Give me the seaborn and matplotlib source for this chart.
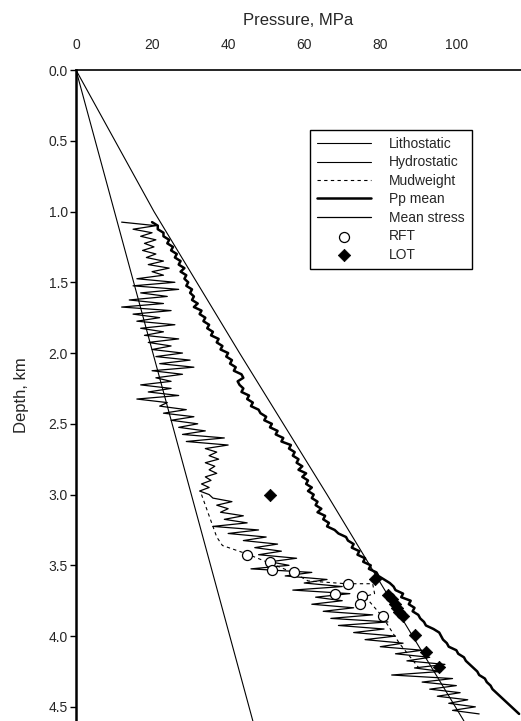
import numpy as np
import pandas as pd
import matplotlib
matplotlib.use("Agg")
import matplotlib.pyplot as plt
from matplotlib.ticker import FormatStrFormatter
import seaborn as sns

sns.set_style("ticks")
plt.rcParams['font.family'] = ['Liberation Sans', 'DejaVu Sans']

# straight gradients (depth km, pressure MPa)
litho_depth = [0.0, 1.0, 2.0, 3.0, 4.0, 4.6]
litho_p = [0.0, 20.5, 43.0, 66.0, 88.5, 102.0]
hydro_depth = [0.0, 4.6]
hydro_p = [0.0, 46.5]

# mud weight used while drilling
mud_depth = [3.00, 3.30, 3.36, 3.42, 3.55, 3.61, 3.63, 3.63, 3.70, 3.72, 3.86, 4.05, 4.22]
mud_p = [33.0, 37.0, 38.5, 45.0, 57.0, 61.0, 71.0, 78.0, 78.5, 76.0, 80.5, 85.0, 90.0]

# log-derived curves, digitised every 25 m
log_depth = [
    1.075, 1.100, 1.125, 1.150, 1.175, 1.200, 1.225, 1.250, 1.275, 1.300,
    1.325, 1.350, 1.375, 1.400, 1.425, 1.450, 1.475, 1.500, 1.525, 1.550,
    1.575, 1.600, 1.625, 1.650, 1.675, 1.700, 1.725, 1.750, 1.775, 1.800,
    1.825, 1.850, 1.875, 1.900, 1.925, 1.950, 1.975, 2.000, 2.025, 2.050,
    2.075, 2.100, 2.125, 2.150, 2.175, 2.200, 2.225, 2.250, 2.275, 2.300,
    2.325, 2.350, 2.375, 2.400, 2.425, 2.450, 2.475, 2.500, 2.525, 2.550,
    2.575, 2.600, 2.625, 2.650, 2.675, 2.700, 2.725, 2.750, 2.775, 2.800,
    2.825, 2.850, 2.875, 2.900, 2.925, 2.950, 2.975, 3.000, 3.025, 3.050,
    3.075, 3.100, 3.125, 3.150, 3.175, 3.200, 3.225, 3.250, 3.275, 3.300,
    3.325, 3.350, 3.375, 3.400, 3.425, 3.450, 3.475, 3.500, 3.525, 3.550,
    3.575, 3.600, 3.625, 3.650, 3.675, 3.700, 3.725, 3.750, 3.775, 3.800,
    3.825, 3.850, 3.875, 3.900, 3.925, 3.950, 3.975, 4.000, 4.025, 4.050,
    4.075, 4.100, 4.125, 4.150, 4.175, 4.200, 4.225, 4.250, 4.275, 4.300,
    4.325, 4.350, 4.375, 4.400, 4.425, 4.450, 4.475, 4.500, 4.525, 4.550,
]
pp_mean = [
    20, 21.5, 21.5, 23, 23, 24.5, 24, 25.5, 25, 26.5,
    26, 27.5, 27, 28.5, 27.5, 29, 28.5, 29.5, 29, 30.5,
    30, 31, 30.5, 32, 31, 33, 32.5, 34, 33.5, 35,
    34.5, 36, 35.5, 37.5, 37, 38.5, 38, 40, 39.5, 41,
    40.5, 42, 41.5, 43.5, 44, 42.5, 43, 44, 43.5, 45.5,
    45, 46.5, 46, 48, 48.5, 50, 49.5, 51.5, 51, 53,
    52.5, 54.5, 54, 56.5, 56, 57.5, 57, 58.5, 58, 59.5,
    58.5, 60.5, 59.5, 61, 60.5, 62, 61, 62.5, 62, 63.5,
    63, 64.5, 63.5, 65.5, 65, 66.5, 66, 68, 69, 71,
    71.5, 73, 72.5, 74.5, 74, 76, 75.5, 77.5, 77, 79,
    79.5, 81, 82.5, 83.5, 84, 86, 85.5, 88, 87.5, 89,
    88.5, 90, 90.5, 91.5, 92, 94, 95.5, 96, 96.5, 97.5,
    98, 100, 100.5, 102, 102.5, 103.5, 104.5, 105.5, 106, 107.5,
    108, 109, 109.5, 110.5, 111.5, 112.5, 113.5, 114.5, 115.5, 116.5,
]
mean_stress = [
    12, 21, 15, 20, 17, 21, 18, 20.5, 17.5, 21,
    18.5, 23, 19, 24.5, 20, 23, 16, 26, 15, 27,
    17, 24, 14, 23, 12, 25, 15, 22, 16, 26,
    17, 23, 18, 27, 19, 25, 20, 28, 21, 30,
    22, 31, 20, 28, 21, 25, 17, 25, 19, 27,
    16, 24, 22, 29, 23, 31, 25, 32, 27, 34,
    28, 39, 29, 40, 34, 37, 35, 37.5, 34, 36.5,
    35, 37, 34, 35.5, 33, 35, 32.5, 35, 36, 41,
    37, 40, 38, 44, 39, 45, 36, 48, 40, 50,
    44, 53, 47, 54, 48, 58, 51, 56, 46, 62,
    55, 66, 60, 70, 57, 72, 63, 70, 62, 73,
    65, 78, 67, 82, 69, 81, 73, 84, 76, 86,
    80, 91, 84, 93, 87, 97, 89, 96, 83, 99,
    91, 100, 93, 101, 95, 103, 98, 105, 99, 106,
]

# point measurements
rft_depth = [3.43, 3.48, 3.53, 3.55, 3.63, 3.70, 3.72, 3.77, 3.86]
rft_p = [45.0, 51.0, 51.5, 57.4, 71.4, 68.0, 75.3, 74.6, 80.6]
lot_depth = [3.00, 3.60, 3.71, 3.74, 3.77, 3.80, 3.83, 3.86, 3.99, 4.11, 4.22]
lot_p = [51.0, 78.5, 82.0, 83.0, 84.0, 84.5, 85.0, 86.0, 89.0, 92.0, 95.5]

x_ticks = [0, 20, 40, 60, 80, 100]
y_ticks = [0.0, 0.5, 1.0, 1.5, 2.0, 2.5, 3.0, 3.5, 4.0, 4.5]

fig = plt.figure(figsize=(5.21, 7.21), dpi=100)
ax = fig.add_axes([76 / 521, 0, 445 / 521, 651 / 721])

sns.lineplot(x=litho_p, y=litho_depth, sort=False, estimator=None, color="black",
             lw=0.8, label="Lithostatic", ax=ax)
sns.lineplot(x=hydro_p, y=hydro_depth, sort=False, estimator=None, color="black",
             lw=0.8, label="Hydrostatic", ax=ax)
sns.lineplot(x=mud_p, y=mud_depth, sort=False, estimator=None, color="black",
             lw=0.8, linestyle=(0, (3, 3)), label="Mudweight", ax=ax)
sns.lineplot(x=pp_mean, y=log_depth, sort=False, estimator=None, color="black",
             lw=1.8, label="Pp mean", ax=ax)
sns.lineplot(x=mean_stress, y=log_depth, sort=False, estimator=None, color="black",
             lw=0.9, label="Mean stress", ax=ax)
sns.scatterplot(x=rft_p, y=rft_depth, marker="o", s=52, facecolor="white",
                edgecolor="black", linewidth=0.9, label="RFT", ax=ax, zorder=5)
sns.scatterplot(x=lot_p, y=lot_depth, marker="D", s=40, color="black",
                edgecolor="black", label="LOT", ax=ax, zorder=6)

ax.set_xlim(0, 117)
ax.set_ylim(4.6, 0)
ax.xaxis.set_ticks_position("top")
ax.xaxis.set_label_position("top")
ax.set_xticks(x_ticks)
ax.set_yticks(y_ticks)
ax.yaxis.set_major_formatter(FormatStrFormatter("%.1f"))
ax.tick_params(axis="both", labelsize=10, color="black", width=1, length=4)
ax.tick_params(axis="x", pad=9)
ax.tick_params(axis="y", pad=2)
ax.set_xlabel("Pressure, MPa", fontsize=12, labelpad=9)
ax.set_ylabel("Depth, km", fontsize=12, labelpad=14)

sns.despine(ax=ax, top=False, right=True, bottom=True, left=False)
ax.spines["left"].set_linewidth(1.8)
ax.spines["top"].set_linewidth(1.2)
ax.spines["left"].set_color("black")
ax.spines["top"].set_color("black")

leg = ax.legend(loc="upper left", bbox_to_anchor=(310 / 521, 1 - 130 / 721),
                bbox_transform=fig.transFigure, fontsize=10, frameon=True,
                fancybox=False, framealpha=1, edgecolor="black",
                handlelength=3.9, handletextpad=1.3, labelspacing=0.32,
                borderpad=0.5, borderaxespad=0)
leg.get_frame().set_linewidth(1.0)

fig.savefig("out.png", dpi=100)
